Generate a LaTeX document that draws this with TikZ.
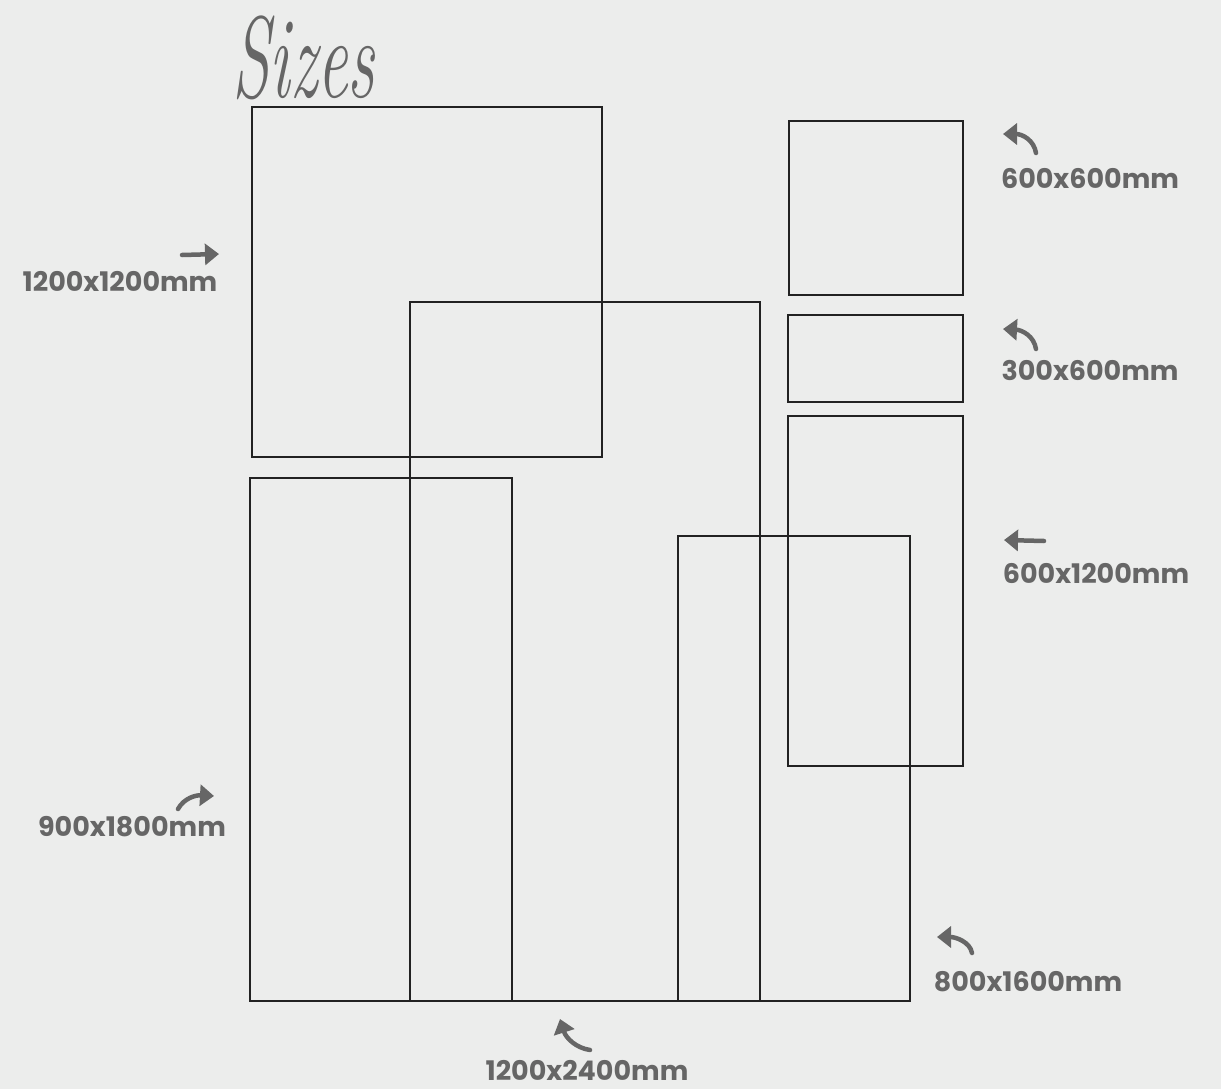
\documentclass[tikz,border=0pt]{standalone}
\usepackage{fontspec}
\setmainfont{Poppins}
\usetikzlibrary{arrows.meta}
\definecolor{bg}{HTML}{ECEDEC}
\definecolor{lbl}{HTML}{666666}
\definecolor{frame}{HTML}{222222}
\tikzset{
  panel/.style={draw=frame, line width=1.8pt},
  sizelbl/.style={text=lbl, font=\fontsize{27}{31}\selectfont\bfseries, inner sep=0pt},
  brush/.style={draw=lbl, line width=4.5pt, line cap=round, -{Triangle[length=14pt,width=21pt]}},
}
\begin{document}
\begin{tikzpicture}[x=1pt,y=-1pt]
\fill[bg] (0,0) rectangle (1221,1089);
\useasboundingbox (0,0) rectangle (1221,1089);
% panels
\draw[panel] (252,107) rectangle (602,457);
\draw[panel] (410,302) rectangle (760,1001);
\draw[panel] (250,478) rectangle (512,1001);
\draw[panel] (678,536) rectangle (910,1001);
\draw[panel] (789,121) rectangle (963,295);
\draw[panel] (788,315) rectangle (963,402);
\draw[panel] (788,416) rectangle (963,766);
% title
\node[text=lbl, font=\fontfamily{lmr}\fontsize{80}{90}\selectfont\itshape, inner sep=0pt, anchor=base west] (title) at (232,98) {\scalebox{0.85}[1.45]{Sizes}};
% labels
\node[sizelbl] (l1) at (120,281) {1200x1200mm};
\node[sizelbl] (l2) at (1090,178) {600x600mm};
\node[sizelbl] (l3) at (1090,370) {300x600mm};
\node[sizelbl] (l4) at (1096,573) {600x1200mm};
\node[sizelbl] (l5) at (132,827) {900x1800mm};
\node[sizelbl] (l6) at (1028,982) {800x1600mm};
\node[sizelbl] (l7) at (587,1070) {1200x2400mm};
% arrows
\coordinate (a1s) at (182,255); \coordinate (a1e) at (219,254);
\draw[brush] (a1s) -- (a1e);
\coordinate (a2s) at (1036,153); \coordinate (a2e) at (1003,134);
\draw[brush] (a2s) .. controls (1034,140) and (1022,134) .. (a2e);
\coordinate (a3s) at (1036,349); \coordinate (a3e) at (1003,329);
\draw[brush] (a3s) .. controls (1034,336) and (1022,330) .. (a3e);
\coordinate (a4s) at (1044,541); \coordinate (a4e) at (1004,540);
\draw[brush] (a4s) -- (a4e);
\coordinate (a5s) at (178,809); \coordinate (a5e) at (214,796);
\draw[brush] (a5s) .. controls (184,798) and (196,795) .. (a5e);
\coordinate (a6s) at (972,953); \coordinate (a6e) at (937,937);
\draw[brush] (a6s) .. controls (970,942) and (956,937) .. (a6e);
\coordinate (a7s) at (590,1050); \coordinate (a7e) at (560,1019);
\draw[brush] (a7s) .. controls (576,1048) and (566,1038) .. (a7e);
\end{tikzpicture}
\end{document}
